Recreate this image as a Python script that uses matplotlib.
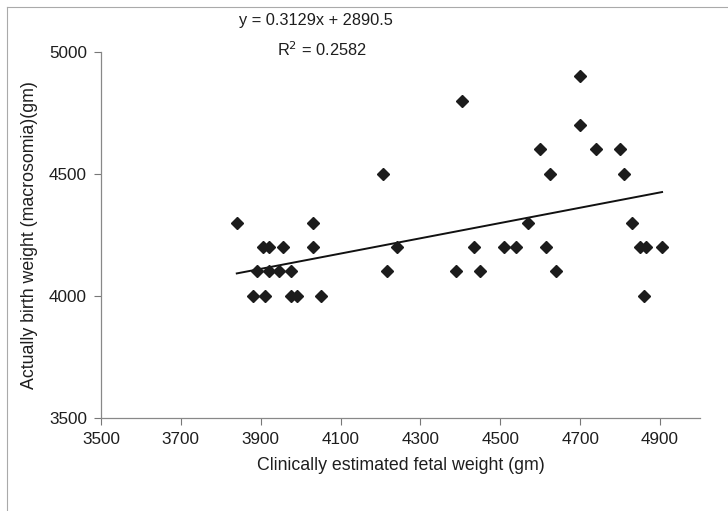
import matplotlib
matplotlib.use("Agg")
import matplotlib.pyplot as plt
import numpy as np
from matplotlib.lines import Line2D

plt.rcParams["font.family"] = ["Liberation Sans", "DejaVu Sans"]

# ---- data ----------------------------------------------------------------
est_weight = [3840, 4030, 4570, 4830,
              3905, 3920, 3955, 4030, 4240, 4435, 4510, 4540, 4615, 4850, 4865, 4905,
              3890, 3920, 3945, 3975, 4215, 4390, 4450, 4640,
              3880, 3910, 3975, 3990, 4050, 4860,
              4205, 4625, 4810,
              4600, 4740, 4800,
              4700, 4405, 4700]
birth_weight = [4300, 4300, 4300, 4300,
                4200, 4200, 4200, 4200, 4200, 4200, 4200, 4200, 4200, 4200, 4200, 4200,
                4100, 4100, 4100, 4100, 4100, 4100, 4100, 4100,
                4000, 4000, 4000, 4000, 4000, 4000,
                4500, 4500, 4500,
                4600, 4600, 4600,
                4700, 4800, 4900]
slope, intercept, r2 = 0.3129, 2890.5, 0.2582
x_ticks = [3500, 3700, 3900, 4100, 4300, 4500, 4700, 4900]
y_ticks = [3500, 4000, 4500, 5000]

W, H = 728, 511
TXT = "#1e1e1e"
fig = plt.figure(figsize=(W / 100, H / 100), dpi=100)
ax = fig.add_axes([101 / W, 1 - 418 / H, 599 / W, (418 - 51.7) / H])

ax.plot(est_weight, birth_weight, "D", color="#1c1c1c", markersize=6.5, zorder=3)

xs = np.array([min(est_weight), max(est_weight)])
ax.plot(xs, slope * xs + intercept, color="#111111", lw=1.4, zorder=2)

ax.set_xlim(3500, 5000)
ax.set_ylim(3500, 5000)
ax.set_xticks(x_ticks)
ax.set_yticks(y_ticks)
ax.tick_params(direction="out", length=5, width=0.8, color="#777777",
               labelsize=12.3, labelcolor=TXT, pad=5)
for s in ("top", "right"):
    ax.spines[s].set_visible(False)
for s in ("left", "bottom"):
    ax.spines[s].set_color("#888888")
    ax.spines[s].set_linewidth(0.9)

ax.set_xlabel("Clinically estimated fetal weight (gm)", fontsize=12.8, color=TXT, labelpad=7)
ax.set_ylabel("Actually birth weight (macrosomia)(gm)", fontsize=12.8, color=TXT, labelpad=8)

fig.text(316 / W, 1 - 21 / H, f"y = {slope}x + {intercept}", ha="center", va="center",
         fontsize=11.8, color=TXT)
fig.text(322 / W, 1 - 50 / H, f"R$^2$ = {r2}", ha="center", va="center",
         fontsize=11.8, color=TXT)

# chart-area border (only top and left edges fall inside the scan)
fig.lines.append(Line2D([7 / W, 7 / W], [0, 1 - 7 / H], transform=fig.transFigure,
                        color="#aaaaaa", lw=0.8))
fig.lines.append(Line2D([7 / W, 1], [1 - 7 / H, 1 - 7 / H], transform=fig.transFigure,
                        color="#aaaaaa", lw=0.8))

fig.savefig("out.png", dpi=100)
